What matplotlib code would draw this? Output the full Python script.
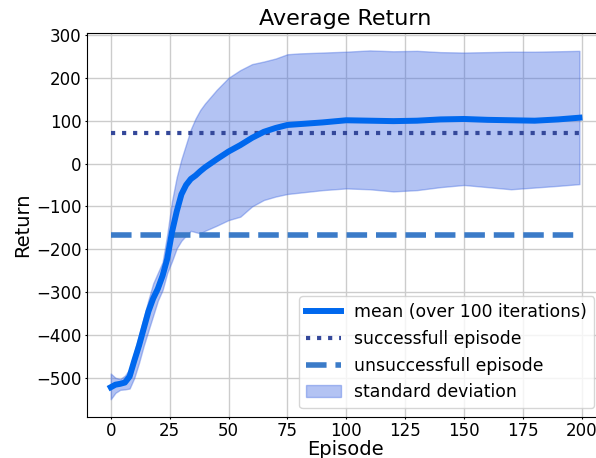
import matplotlib
matplotlib.use('Agg')
import matplotlib.pyplot as plt
import numpy as np

# episodes where the curve was read
episode = [0, 2, 4, 6, 8, 10, 12, 14, 16, 18, 20, 22, 24, 26, 28, 30, 32, 34, 36, 38, 40,
           45, 50, 55, 60, 65, 70, 75, 80, 90, 100, 110, 120, 130, 140, 150, 160, 170, 180, 190, 199]
mean = [-522, -516, -514, -511, -497, -460, -425, -385, -345, -315, -292, -262, -222, -160, -112,
        -72, -50, -36, -28, -18, -9,
        10, 28, 43, 60, 74, 83, 90, 92, 96, 101, 100, 99, 100, 103, 104, 102, 101, 100, 103, 107]
upper = [-490, -500, -503, -495, -480, -440, -400, -360, -318, -280, -255, -230, -165, -88, -32,
         10, 45, 80, 105, 125, 140,
         172, 200, 218, 232, 238, 245, 255, 257, 259, 261, 264, 262, 263, 260, 259, 260, 261, 261, 262, 263]
lower = [-550, -535, -528, -527, -525, -500, -465, -425, -390, -355, -320, -295, -255, -228, -198,
         -180, -168, -157, -160, -163, -157,
         -145, -132, -124, -100, -85, -77, -71, -68, -62, -58, -60, -65, -62, -55, -50, -55, -60, -56, -52, -48]

success = 72      # return of a successful episode
fail = -167       # return of an unsuccessful episode

fig = plt.figure(figsize=(5.96, 4.58), dpi=100)
ax = fig.add_axes([0.1465, 0.0902, 0.865, 0.8378])

ax.grid(True, color='#cccccc', linewidth=1)
ax.set_axisbelow(True)

ax.plot(episode, mean, color='#0068ee', linewidth=4.3, label='mean (over 100 iterations)', zorder=4)
ax.plot([episode[0], episode[-1]], [success, success], ':', color='#34489a', linewidth=3,
        label='successfull episode', zorder=3)
ax.plot([episode[0], episode[-1]], [fail, fail], '--', color='#3b7bc8', linewidth=4,
        label='unsuccessfull episode', zorder=3)
ax.fill_between(episode, lower, upper, color='royalblue', alpha=0.4,
                label='standard deviation', zorder=2)

ax.set_title('Average Return', fontsize=16)
ax.set_xlabel('Episode', fontsize=14, labelpad=0)
ax.set_ylabel('Return', fontsize=14, labelpad=3)
ax.set_xticks(np.arange(0, 201, 25))
ax.set_yticks(np.arange(-500, 301, 100))
ax.tick_params(labelsize=12, length=1.5, pad=2.5)
ax.legend(loc='lower right', fontsize=12.4)

fig.savefig('out.png', dpi=100)
